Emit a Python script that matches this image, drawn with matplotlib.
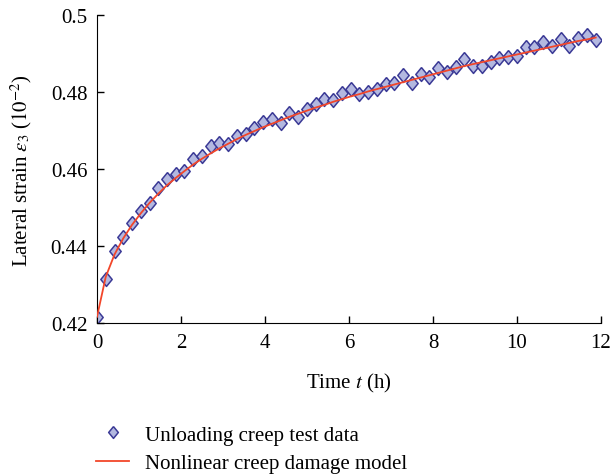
import matplotlib
matplotlib.use("Agg")
from matplotlib import pyplot as plt
import numpy as np

# time in hours, one reading every 12.5 min
t_h = [k * 12.5 / 60 for k in range(58)]

strain_test = [
    0.4216, 0.4314, 0.4386, 0.4424, 0.4460, 0.4491, 0.4511, 0.4552, 0.4573, 0.4586,
    0.4594, 0.4626, 0.4634, 0.4660, 0.4669, 0.4665, 0.4685, 0.4690, 0.4708, 0.4723,
    0.4730, 0.4721, 0.4747, 0.4735, 0.4755, 0.4770, 0.4783, 0.4779, 0.4799, 0.4807,
    0.4794, 0.4801, 0.4809, 0.4820, 0.4825, 0.4845, 0.4825, 0.4848, 0.4840, 0.4864,
    0.4852, 0.4866, 0.4885, 0.4868, 0.4868, 0.4878, 0.4888, 0.4892, 0.4895, 0.4918,
    0.4917, 0.4931, 0.4920, 0.4937, 0.4920, 0.4940, 0.4948, 0.4935,
]

strain_model = [
    0.4216, 0.4320, 0.4378, 0.4420, 0.4455, 0.4485, 0.4512, 0.4536, 0.4558, 0.4577,
    0.4595, 0.4612, 0.4627, 0.4641, 0.4654, 0.4666, 0.4678, 0.4689, 0.4699, 0.4709,
    0.4718, 0.4727, 0.4736, 0.4744, 0.4752, 0.4760, 0.4767, 0.4775, 0.4782, 0.4789,
    0.4795, 0.4802, 0.4808, 0.4814, 0.4820, 0.4826, 0.4832, 0.4838, 0.4844, 0.4850,
    0.4856, 0.4862, 0.4868, 0.4873, 0.4878, 0.4883, 0.4888, 0.4893, 0.4898, 0.4903,
    0.4908, 0.4913, 0.4918, 0.4923, 0.4928, 0.4933, 0.4937, 0.4942,
]

x_ticks = [0, 2, 4, 6, 8, 10, 12]
y_ticks = [0.42, 0.44, 0.46, 0.48, 0.5]
y_ticklabels = ["0.42", "0.44", "0.46", "0.48", "0.5"]

plt.rcParams['font.family'] = ['Liberation Serif', 'DejaVu Serif']
plt.rcParams['mathtext.fontset'] = 'stix'

# slightly tall diamond like the original
diamond = [(0, 1), (0.82, 0), (0, -1), (-0.82, 0), (0, 1)]

fig = plt.figure(figsize=(6.12, 4.77), dpi=100)
ax = fig.add_axes([0.1585, 0.3208, 0.8235, 0.6452])

ax.plot(t_h, strain_test, linestyle='none', marker=diamond, markersize=10,
        markerfacecolor='#b3b8e0', markeredgecolor='#3b3a96', markeredgewidth=1.1,
        label='Unloading creep test data', zorder=2)
ax.plot(t_h, strain_model, color='#f2462a', linewidth=1.3,
        label='Nonlinear creep damage model', zorder=3)

ax.set_xlim(0, 12)
ax.set_ylim(0.42, 0.5)
ax.set_xticks(x_ticks)
ax.set_yticks(y_ticks)
ax.set_yticklabels(y_ticklabels)
ax.spines['top'].set_visible(False)
ax.spines['right'].set_visible(False)
ax.tick_params(direction='in', length=5, width=1, labelsize=15, pad=7)
ax.set_xlabel('Time $t$ (h)', fontsize=15, labelpad=14)
ax.set_ylabel(r'Lateral strain $\varepsilon_3$ ($10^{-2}$)', fontsize=15, labelpad=12)
ax.patch.set_alpha(0)
for s in ax.spines.values():
    s.set_clip_on(False)

handles, labels = ax.get_legend_handles_labels()
fig.legend(handles, labels, loc='upper left', bbox_to_anchor=(0.1435, 0.124),
           frameon=False, fontsize=15, handlelength=1.6, handletextpad=0.75,
           labelspacing=0.42, borderaxespad=0, markerscale=0.85)

fig.savefig('out.png', dpi=100)
